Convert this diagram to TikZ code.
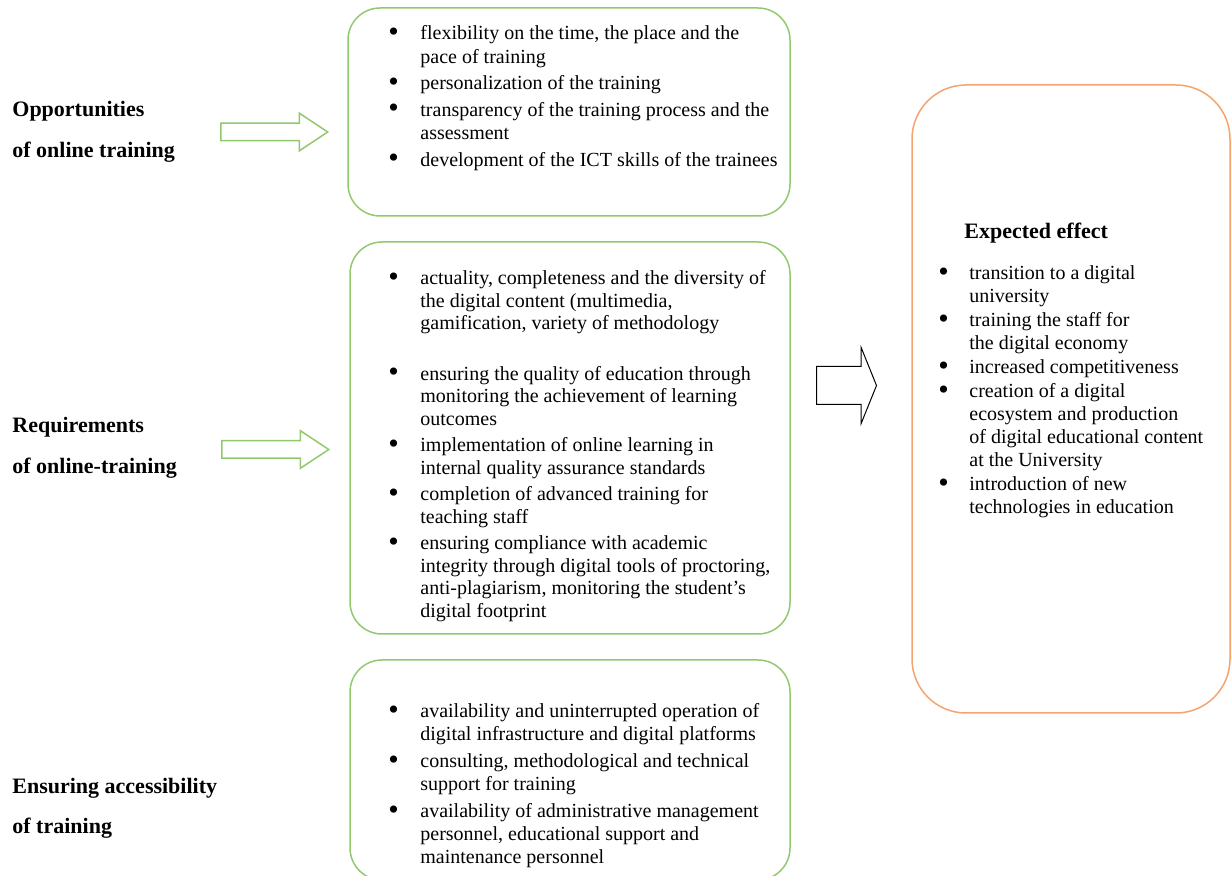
\documentclass[tikz,border=0pt]{standalone}
\usepackage{fontspec}
\setmainfont{Liberation Serif}
\usepackage{enumitem}
\usepackage{xcolor}
\usetikzlibrary{shapes.arrows}
\definecolor{boxgreen}{RGB}{146,200,110}
\definecolor{boxorange}{RGB}{244,164,110}
\newcommand{\bigbullet}{\smash{\raisebox{-0.6pt}{\fontsize{15}{15}\selectfont\textbullet}}}
\setlist[itemize]{label=\bigbullet, leftmargin=16pt, labelwidth=6pt, labelsep=10pt, align=left, topsep=0pt, partopsep=0pt, parsep=0pt, itemsep=1.5pt}
\tikzset{
    green-box/.style = {draw=boxgreen, line width=0.75pt, rectangle, rounded corners=16pt, inner sep=0pt},
    orange-box/.style = {draw=boxorange, line width=0.75pt, rectangle, rounded corners=27pt, inner sep=0pt},
    side-title/.style = {anchor=base west, align=left, inner sep=0pt, font=\fontsize{11}{20.5}\selectfont\bfseries},
    box-text/.style = {anchor=base west, inner sep=0pt, font=\fontsize{10}{11.75}\selectfont},
    green-arrow/.style = {draw=boxgreen, line width=0.75pt, single arrow, anchor=tail, inner xsep=0pt, inner ysep=4pt, minimum height=53.5pt, minimum width=18pt, single arrow head extend=5pt, single arrow tip angle=67},
    black-arrow/.style = {draw=black, line width=0.5pt, single arrow, anchor=tail, inner xsep=0pt, inner ysep=9.25pt, minimum height=30pt, minimum width=37.5pt, single arrow head extend=9.5pt, single arrow tip angle=136},
}

\begin{document}
\begin{tikzpicture}[x=0.5pt, y=-0.5pt]
\useasboundingbox (0,0) rectangle (1232,876);

\node [side-title] (opp-title) at (12,158) {Opportunities\\of online training};
\node [side-title] (req-title) at (12,474) {Requirements\\of online-training};
\node [side-title] (acc-title) at (12,834) {Ensuring accessibility\\of training};

\node [green-box, minimum width=221pt, minimum height=104pt] (opp-box) at (569,112) {};
\node [green-box, minimum width=220pt, minimum height=196pt] (req-box) at (570,438) {};
\node [green-box, minimum width=220pt, minimum height=110pt] (acc-box) at (570,770) {};
\node [orange-box, minimum width=159pt, minimum height=314pt] (effect-box) at (1071,399) {};

\node [green-arrow] (opp-arrow) at (220,132) {};
\node [green-arrow] (req-arrow) at (221,449.5) {};
\node [black-arrow] (effect-arrow) at (816,385.5) {};

\node [box-text] (opp-list) at (388,40) {\begin{minipage}[t]{220pt}
\begin{itemize}
    \item flexibility on the time, the place and the\\pace of training
    \item personalization of the training
    \item transparency of the training process and the\\assessment
    \item development of the ICT skills of the trainees
\end{itemize}
\end{minipage}};

\node [box-text, font=\fontsize{10}{11.25}\selectfont] (req-list) at (388,285) {\begin{minipage}[t]{220pt}
\begin{itemize}[itemsep=2pt]
    \item actuality, completeness and the diversity of\\the digital content (multimedia,\\gamification, variety of methodology
    \vspace{12pt}
    \item ensuring the quality of education through\\monitoring the achievement of learning\\outcomes
    \item implementation of online learning in\\internal quality assurance standards
    \item completion of advanced training for\\teaching staff
    \item ensuring compliance with academic\\integrity through digital tools of proctoring,\\anti-plagiarism, monitoring the student's\\digital footprint
\end{itemize}
\end{minipage}};

\node [box-text, font=\fontsize{10}{11.5}\selectfont] (acc-list) at (388,718) {\begin{minipage}[t]{220pt}
\begin{itemize}[itemsep=2pt]
    \item availability and uninterrupted operation of\\digital infrastructure and digital platforms
    \item consulting, methodological and technical\\support for training
    \item availability of administrative management\\personnel, educational support and\\maintenance personnel
\end{itemize}
\end{minipage}};

\node [anchor=base west, inner sep=0pt, font=\fontsize{11}{13}\selectfont\bfseries] (effect-title) at (964,239) {Expected effect};
\node [box-text, font=\fontsize{10}{11.5}\selectfont] (effect-list) at (938,280) {\begin{minipage}[t]{150pt}
\begin{itemize}[leftmargin=15.5pt, labelsep=9.5pt, itemsep=0.5pt]
    \item transition to a digital\\university
    \item training the staff for\\the digital economy
    \item increased competitiveness
    \item creation of a digital\\ecosystem and production\\of digital educational content\\at the University
    \item introduction of new\\technologies in education
\end{itemize}
\end{minipage}};
\end{tikzpicture}
\end{document}
